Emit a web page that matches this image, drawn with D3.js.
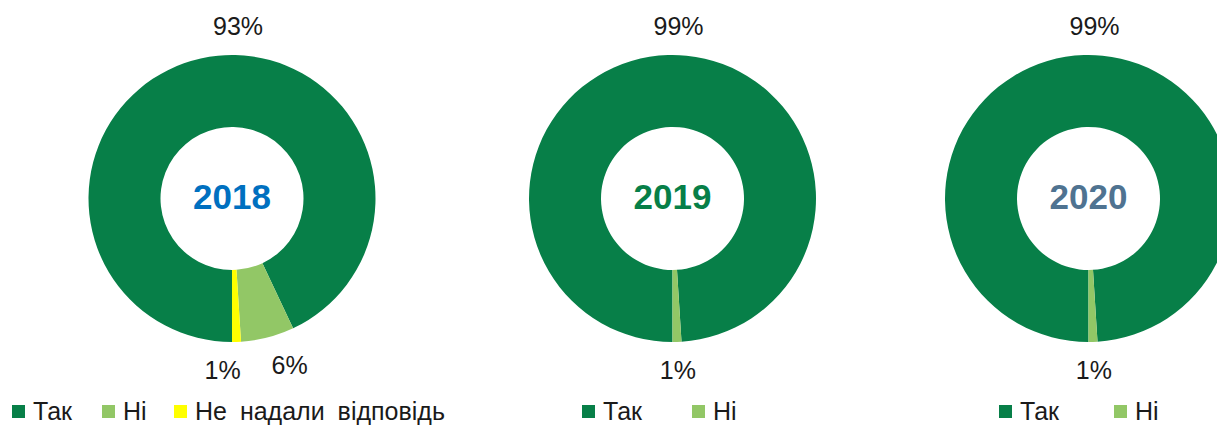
<!DOCTYPE html>
<html lang="uk">
<head>
    <meta charset="UTF-8">
    <title>Donuts</title>
    <script src="https://cdn.jsdelivr.net/npm/d3@7"></script>
    <style>
        body { margin: 0; background: #fff; }
        svg { display: block; font-family: "Liberation Sans", Arial, sans-serif; }
    </style>
</head>
<body>
<svg id="chart" width="1217" height="426"></svg>
<script>
    // data
    var years = ["2018", "2019", "2020"];
    var categories = ["Так", "Ні", "Не надали відповідь"];
    var values2018 = [93, 6, 1];
    var values2019 = [99, 1];
    var values2020 = [99, 1];
    var seriesValues = [values2018, values2019, values2020];

    // look
    var sliceColors = ["#077f48", "#92c766", "#ffff00"];
    var yearColors = ["#0070c0", "#077f48", "#4f7391"];
    var centersX = [232, 672.5, 1088.5];
    var centerY = 198.5;
    var outerR = 143.5, innerR = 71.5;
    var labelR = 172;
    // legend square x for each chart
    var legendX = [[12, 102, 174], [582, 692], [999, 1114]];

    var svg = d3.select("#chart");

    var color = d3.scaleOrdinal().domain(categories).range(sliceColors);

    var pie = d3.pie().sort(null).value(function (d) { return d.v; })
        .startAngle(Math.PI).endAngle(3 * Math.PI);
    var arc = d3.arc().innerRadius(innerR).outerRadius(outerR);

    years.forEach(function (yr, i) {
        var data = seriesValues[i].map(function (v, k) {
            return {name: categories[k], v: v};
        });
        var g = svg.append("g")
            .attr("transform", "translate(" + centersX[i] + "," + centerY + ")");

        var arcs = pie(data);
        g.selectAll("path").data(arcs).enter().append("path")
            .attr("d", arc)
            .attr("fill", function (d) { return color(d.data.name); });

        g.append("text")
            .attr("text-anchor", "middle")
            .attr("y", -2)
            .attr("dy", "0.35em")
            .attr("font-size", 35)
            .attr("font-weight", "bold")
            .attr("fill", yearColors[i])
            .text(yr);

        // labels: biggest slice on top, the small ones around the bottom
        var labels = arcs.map(function (d, k) {
            var a = k == 0 ? 0.035 : (d.startAngle + d.endAngle) / 2;
            return {
                x: labelR * Math.sin(a),
                y: -labelR * Math.cos(a),
                t: d.data.v + "%"
            };
        });
        var small = labels.slice(1).sort(function (a, b) { return a.x - b.x; });
        if (small.length > 1) {
            var mean = d3.mean(small, function (d) { return d.x; });
            var gap = 67;
            small.forEach(function (d, k) {
                d.x = mean + (k - (small.length - 1) / 2) * gap;
            });
        }
        g.selectAll("text.lbl").data(labels).enter().append("text")
            .attr("class", "lbl")
            .attr("x", function (d) { return d.x; })
            .attr("y", function (d) { return d.y; })
            .attr("dy", "0.35em")
            .attr("text-anchor", "middle")
            .attr("font-size", 25)
            .attr("fill", "#1a1a1a")
            .text(function (d) { return d.t; });

        // legend
        var lg = svg.append("g");
        data.forEach(function (d, k) {
            var x = legendX[i][k];
            lg.append("rect")
                .attr("x", x).attr("y", 405)
                .attr("width", 13).attr("height", 13)
                .attr("fill", color(d.name));
            lg.append("text")
                .attr("x", x + 21).attr("y", 420)
                .attr("font-size", 25)
                .attr("word-spacing", 6)
                .attr("fill", "#1a1a1a")
                .text(d.name);
        });
    });
</script>
</body>
</html>
